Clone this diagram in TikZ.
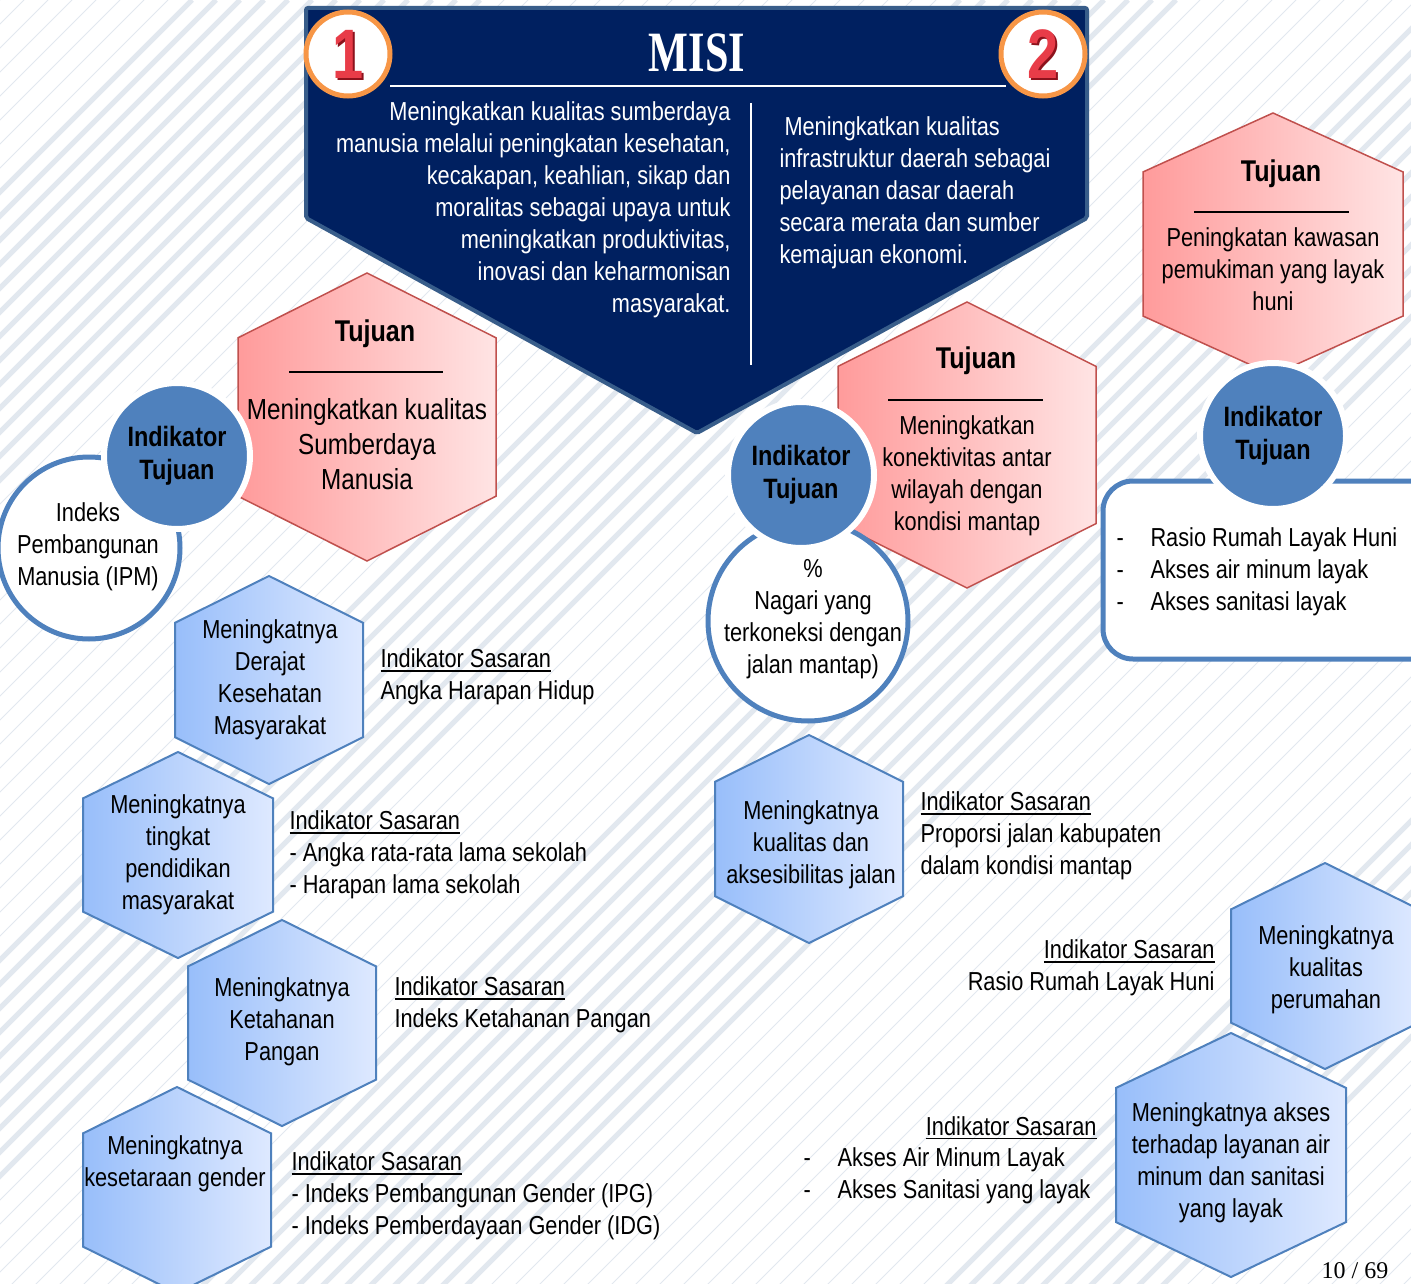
\documentclass[tikz,border=0pt]{standalone}
\usepackage{fontspec}
\setmainfont[FakeStretch=0.837]{Liberation Sans}
\newfontfamily\misifont[FakeStretch=0.74]{Liberation Serif}
\newfontfamily\halfont{Liberation Serif}
\newfontfamily\angkafont[FakeStretch=0.8]{Liberation Sans}
\usetikzlibrary{positioning}

\definecolor{navy}{RGB}{0,32,96}
\definecolor{navytepi}{RGB}{56,93,138}
\definecolor{oranye}{RGB}{247,150,70}
\definecolor{biru}{RGB}{79,129,189}
\definecolor{merah}{RGB}{192,80,77}
\definecolor{pinkkiri}{RGB}{255,155,155}
\definecolor{pinkkanan}{RGB}{255,228,228}
\definecolor{birukiri}{RGB}{152,190,250}
\definecolor{birukanan}{RGB}{222,233,255}
\definecolor{garis}{RGB}{226,232,239}
\definecolor{angka}{RGB}{232,60,72}
\definecolor{angkagelap}{RGB}{140,18,28}

\newsavebox\kotakgb
\newcommand{\garisbawah}[1]{\sbox\kotakgb{#1}\rlap{\rule[-4pt]{\wd\kotakgb}{1.6pt}}\usebox\kotakgb}
\newcommand{\butir}{\makebox[34pt][l]{-}}
% hexagon with point on top: [style]{cx}{cy}{half width}{half height}
\newcommand{\heksagon}[5][]{%
  \path[#1] ({#2},{#3-#5}) -- ({#2+#4},{#3-0.55*#5}) -- ({#2+#4},{#3+0.55*#5})
    -- ({#2},{#3+#5}) -- ({#2-#4},{#3+0.55*#5}) -- ({#2-#4},{#3-0.55*#5}) -- cycle;}

\tikzset{
  every picture/.style={
    line width=1pt
  },
  teks/.style={font=\fontsize{26}{32}\selectfont, inner sep=0pt, yshift=-3pt},
  judul/.style={font=\fontsize{30}{36}\selectfont\bfseries, inner sep=0pt, yshift=-3pt},
  tujuanhex/.style={left color=pinkkiri, right color=pinkkanan, draw=merah, line width=1.5pt},
  sasaranhex/.style={left color=birukiri, right color=birukanan, draw=biru, line width=2pt},
  indikator/.style={circle, fill=biru, draw=white, line width=6pt, minimum size=146pt,
    align=center, font=\fontsize{28}{33}\selectfont\bfseries, inner sep=0pt},
  lingkaran/.style={circle, fill=white, draw=biru, line width=5pt, inner sep=0pt},
  nomor/.style={circle, fill=white, draw=oranye, line width=5pt, minimum size=84pt, inner sep=0pt},
  angkabesar/.style={font=\angkafont\fontsize{70}{70}\selectfont\bfseries, inner sep=0pt},
  garistipis/.style={garis, line width=0.8pt},
  garistebal/.style={garis, line width=5pt},
  % aturan/.style={draw, white, line width=2pt},
}

\begin{document}
\begin{tikzpicture}[x=1pt, y=-1pt]
  \useasboundingbox (0,0) rectangle (1411,1284);
  \clip (0,0) rectangle (1411,1284);
  \fill[white] (0,0) rectangle (1411,1284);

  % background stripes
  \foreach \c in {0,24,...,2712}
    \draw[garistipis] (\c,0) -- ++(-1300,1300);
  \foreach \c in {192,216,...,480}
    \draw[garistebal] (\c,0) -- ++(-1300,1300);
  \foreach \c in {960,984,...,1176}
    \draw[garistebal] (\c,0) -- ++(-1300,1300);
  \foreach \c in {1440,1464,...,1752}
    \draw[garistebal] (\c,0) -- ++(-1300,1300);
  \foreach \c in {2232,2256,...,2448}
    \draw[garistebal] (\c,0) -- ++(-1300,1300);

  % MISI banner
  \draw[fill=navy, draw=navytepi, line width=4pt, rounded corners=2pt]
    (306,8) -- (1087,8) -- (1087,218) -- (697,433) -- (306,218) -- cycle;
  \node[font=\misifont\fontsize{57}{57}\selectfont\bfseries, text=white, inner sep=0pt] (misi) at (697,53) {MISI};
  \draw[white, line width=2pt] (390,86) -- (1006,86);
  \draw[white, line width=2pt] (751,103) -- (751,365);
  \node[nomor] (satu) at (348,54) {};
  \node[angkabesar, text=angkagelap] (satubayang) at (350,56) {1};
  \node[angkabesar, text=angka] (satuangka) at (348,54) {1};
  \node[nomor] (dua) at (1043,54) {};
  \node[angkabesar, text=angkagelap] (duabayang) at (1045,56) {2};
  \node[angkabesar, text=angka] (duaangka) at (1043,54) {2};
  \node[teks, text=white, align=right, anchor=east] (misisatu) at (731,207)
    {Meningkatkan kualitas sumberdaya\\manusia melalui peningkatan kesehatan,\\kecakapan, keahlian, sikap dan\\moralitas sebagai upaya untuk\\meningkatkan produktivitas,\\inovasi dan keharmonisan\\masyarakat.};
  \node[teks, text=white, align=left, anchor=west] (misidua) at (779,190)
    {\hspace*{5pt}Meningkatkan kualitas\\infrastruktur daerah sebagai\\pelayanan dasar daerah\\secara merata dan sumber\\kemajuan ekonomi.};

  % tujuan hexagons
  \heksagon[tujuanhex]{367}{417}{129}{144}
  \heksagon[tujuanhex]{967}{445}{129}{143}
  \heksagon[tujuanhex]{1273}{244}{130}{131}
  \node[judul] (tujuansatu) at (375,331) {Tujuan};
  \draw[line width=1.5pt] (289,372) -- (443,372);
  \node[teks, font=\fontsize{29}{35}\selectfont, align=center] (tujuansatuteks) at (367,441)
    {Meningkatkan kualitas\\Sumberdaya\\Manusia};
  \node[judul] (tujuandua) at (976,358) {Tujuan};
  \draw[line width=1.5pt] (888,400) -- (1043,400);
  \node[teks, align=center] (tujuanduateks) at (967,473)
    {Meningkatkan\\konektivitas antar\\wilayah dengan\\kondisi mantap};
  \node[judul] (tujuantiga) at (1281,171) {Tujuan};
  \draw[line width=1.5pt] (1194,212) -- (1349,212);
  \node[teks, align=center] (tujuantigateks) at (1273,266)
    {Peningkatan kawasan\\pemukiman yang layak\\huni};

  % indikator tujuan
  \node[lingkaran, minimum size=182pt] (ipmring) at (89,548) {};
  \node[teks, align=center] (ipm) at (88,544) {Indeks\\Pembangunan\\Manusia (IPM)};
  \node[lingkaran, minimum size=200pt] (nagariring) at (808,621) {};
  \node[teks, align=center] (nagari) at (813,616) {\%\\Nagari yang\\terkoneksi dengan\\jalan mantap)};
  \draw[draw=biru, line width=5pt, fill=white, rounded corners=30pt] (1103,481) rectangle (1450,659);
  \node[teks, align=left, anchor=west] (rumah) at (1116,569)
    {\butir Rasio Rumah Layak Huni\\\butir Akses air minum layak\\\butir Akses sanitasi layak};
  \node[indikator] (indsatu) at (177,456) {Indikator\\Tujuan};
  \node[indikator] (inddua) at (801,475) {Indikator\\Tujuan};
  \node[indikator] (indtiga) at (1273,436) {Indikator\\Tujuan};

  % sasaran hexagons
  \heksagon[sasaranhex]{269}{680}{94}{104}
  \heksagon[sasaranhex]{178}{855}{95}{103}
  \heksagon[sasaranhex]{282}{1023}{94}{103}
  \heksagon[sasaranhex]{177}{1190}{94}{103}
  \heksagon[sasaranhex]{809}{839}{94}{104}
  \heksagon[sasaranhex]{1325}{966}{94}{103}
  \heksagon[sasaranhex]{1231}{1155}{115}{122}
  \node[teks, align=center] (derajat) at (270,677) {Meningkatnya\\Derajat\\Kesehatan\\Masyarakat};
  \node[teks, align=center] (pendidikan) at (178,852) {Meningkatnya\\tingkat\\pendidikan\\masyarakat};
  \node[teks, align=center] (pangan) at (282,1019) {Meningkatnya\\Ketahanan\\Pangan};
  \node[teks, align=center] (gender) at (175,1161) {Meningkatnya\\kesetaraan gender};
  \node[teks, align=center] (jalan) at (811,842) {Meningkatnya\\kualitas dan\\aksesibilitas jalan};
  \node[teks, align=center] (perumahan) at (1326,967) {Meningkatnya\\kualitas\\perumahan};
  \node[teks, align=center] (airminum) at (1231,1160) {Meningkatnya akses\\terhadap layanan air\\minum dan sanitasi\\yang layak};

  % indikator sasaran
  \node[teks, align=left, anchor=west] (sasaransatu) at (380,674)
    {\garisbawah{Indikator Sasaran}\\Angka Harapan Hidup};
  \node[teks, align=left, anchor=west] (sasarandua) at (289,852)
    {\garisbawah{Indikator Sasaran}\\- Angka rata-rata lama sekolah\\- Harapan lama sekolah};
  \node[teks, align=left, anchor=west] (sasarantiga) at (394,1002)
    {\garisbawah{Indikator Sasaran}\\Indeks Ketahanan Pangan};
  \node[teks, align=left, anchor=west] (sasaranempat) at (291,1193)
    {\garisbawah{Indikator Sasaran}\\- Indeks Pembangunan Gender (IPG)\\- Indeks Pemberdayaan Gender (IDG)};
  \node[teks, align=left, anchor=west] (sasaranlima) at (920,833)
    {\garisbawah{Indikator Sasaran}\\Proporsi jalan kabupaten\\dalam kondisi mantap};
  \node[teks, align=right, anchor=east] (sasaranenam) at (1215,965)
    {\garisbawah{Indikator Sasaran}\\Rasio Rumah Layak Huni};
  \node[teks, anchor=east] (sasarantujuh) at (1097,1125) {\garisbawah{Indikator Sasaran}};
  \node[teks, align=left, anchor=west] (sasarantujuhteks) at (803,1173)
    {\butir Akses Air Minum Layak\\\butir Akses Sanitasi yang layak};

  \node[font=\halfont\fontsize{24}{28}\selectfont, inner sep=0pt] (halaman) at (1355,1271) {10 / 69};
\end{tikzpicture}
\end{document}
